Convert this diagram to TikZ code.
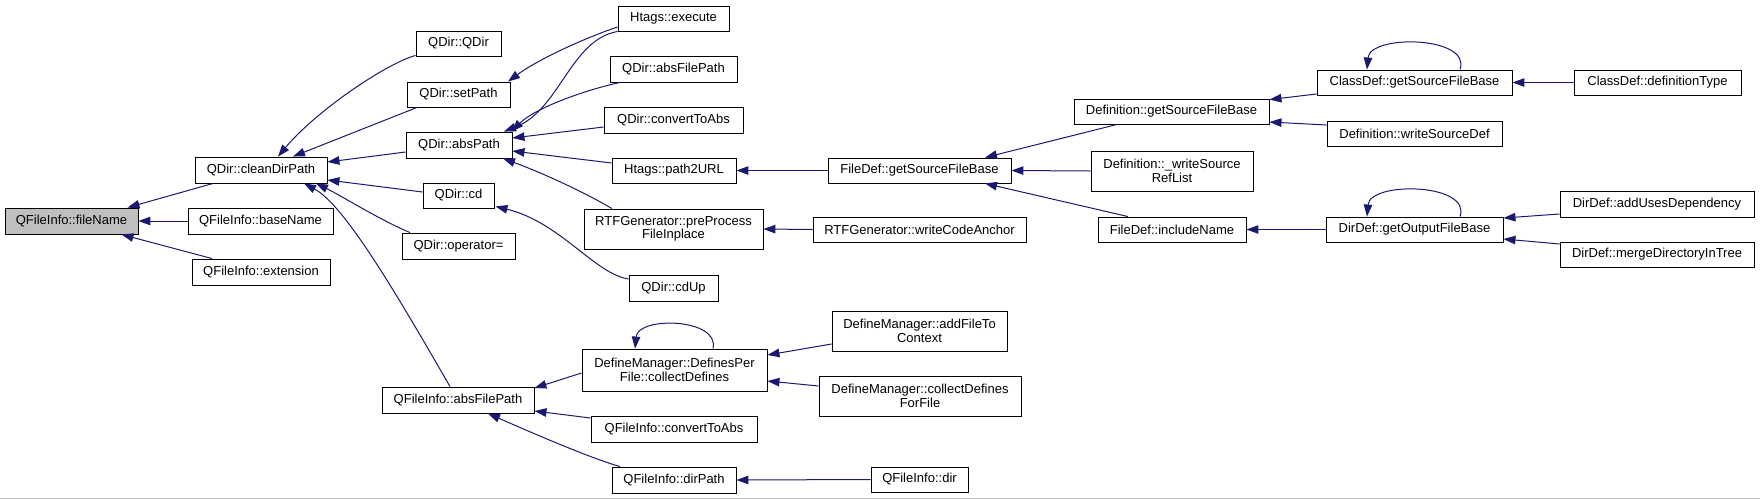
\documentclass[tikz,border=0pt]{standalone}
\usepackage{fontspec}
\setmainfont{Liberation Sans}
\usetikzlibrary{arrows.meta}
\definecolor{edgeblue}{RGB}{25,25,112}
\definecolor{rootgray}{RGB}{191,191,191}
\begin{document}
\begin{tikzpicture}[x=1pt,y=-1pt,
  box/.style={draw=black, line width=0.9pt, inner sep=0pt, fill=white, align=center,
    font=\fontsize{13}{13.5}\selectfont},
  conn/.style={draw=edgeblue, line width=1pt, -{Triangle[length=12pt,width=8.5pt]}, fill=none}]
\useasboundingbox (0,0) rectangle (1760,499);
\draw[color=black!25, line width=1pt] (0,498.5) -- (1760,498.5);
% column 0
\node[box, fill=rootgray, minimum width=133pt, minimum height=26pt] (fileName) at (71.5,221) {QFileInfo::fileName};
% column 1
\node[box, minimum width=132pt, minimum height=26pt] (cleanDirPath) at (261,170) {QDir::cleanDirPath};
\node[box, minimum width=145pt, minimum height=26pt] (baseName) at (260.5,221) {QFileInfo::baseName};
\node[box, minimum width=138pt, minimum height=26pt] (extension) at (261,272) {QFileInfo::extension};
% column 2
\node[box, minimum width=85pt, minimum height=25pt] (qdir) at (458.5,43.5) {QDir::QDir};
\node[box, minimum width=103pt, minimum height=25pt] (setPath) at (458.5,94.5) {QDir::setPath};
\node[box, minimum width=106pt, minimum height=26pt] (absPath) at (459,145) {QDir::absPath};
\node[box, minimum width=71pt, minimum height=25pt] (cd) at (458.5,195.5) {QDir::cd};
\node[box, minimum width=113pt, minimum height=26pt] (opeq) at (458.5,246) {QDir::operator=};
\node[box, minimum width=152pt, minimum height=26pt] (fiAbs) at (458,400) {QFileInfo::absFilePath};
% column 3
\node[box, minimum width=111pt, minimum height=25pt] (execute) at (673.5,18.5) {Htags::execute};
\node[box, minimum width=127pt, minimum height=26pt] (qdAbs) at (673.5,69) {QDir::absFilePath};
\node[box, minimum width=139pt, minimum height=26pt] (qdConv) at (673.5,120) {QDir::convertToAbs};
\node[box, minimum width=124pt, minimum height=25pt] (path2URL) at (674,170.5) {Htags::path2URL};
\node[box, minimum width=179pt, minimum height=40pt] (preProc) at (673.5,229) {RTFGenerator::preProcess\\FileInplace};
\node[box, minimum width=89pt, minimum height=26pt] (cdUp) at (673.5,288) {QDir::cdUp};
\node[box, minimum width=185pt, minimum height=42pt] (defPer) at (674.5,370) {DefineManager::DefinesPer\\File::collectDefines};
\node[box, minimum width=166pt, minimum height=26pt] (fiConv) at (674,429) {QFileInfo::convertToAbs};
\node[box, minimum width=124pt, minimum height=26pt] (dirPath) at (674,480) {QFileInfo::dirPath};
% column 4
\node[box, minimum width=183pt, minimum height=25pt] (fdGSFB) at (919.5,170.5) {FileDef::getSourceFileBase};
\node[box, minimum width=213pt, minimum height=25pt] (wca) at (919.5,229.5) {RTFGenerator::writeCodeAnchor};
\node[box, minimum width=175pt, minimum height=40pt] (addFile) at (919.5,331) {DefineManager::addFileTo\\Context};
\node[box, minimum width=202pt, minimum height=40pt] (collDef) at (920,396) {DefineManager::collectDefines\\ForFile};
\node[box, minimum width=97pt, minimum height=25pt] (fiDir) at (919.5,479.5) {QFileInfo::dir};
% column 5
\node[box, minimum width=195pt, minimum height=25pt] (defGSFB) at (1171.5,111.5) {Definition::getSourceFileBase};
\node[box, minimum width=162pt, minimum height=40pt] (wsrl) at (1172,171) {Definition::\_writeSource\\RefList};
\node[box, minimum width=148pt, minimum height=25pt] (inclName) at (1172,229.5) {FileDef::includeName};
% column 6
\node[box, minimum width=195pt, minimum height=25pt] (cdGSFB) at (1414.5,82.5) {ClassDef::getSourceFileBase};
\node[box, minimum width=175pt, minimum height=25pt] (wsd) at (1414.5,133.5) {Definition::writeSourceDef};
\node[box, minimum width=177pt, minimum height=25pt] (gofb) at (1414.5,229.5) {DirDef::getOutputFileBase};
% column 7
\node[box, minimum width=167pt, minimum height=25pt] (defType) at (1657.5,82.5) {ClassDef::definitionType};
\node[box, minimum width=194pt, minimum height=26pt] (aud) at (1657,204) {DirDef::addUsesDependency};
\node[box, minimum width=194pt, minimum height=25pt] (mdit) at (1657,254.5) {DirDef::mergeDirectoryInTree};
% edges into fileName
\draw[conn] ([xshift=-48pt]cleanDirPath.south) -- ([xshift=56pt]fileName.north);
\draw[conn] (baseName.west) -- (fileName.east);
\draw[conn] ([xshift=-49pt]extension.north) -- ([xshift=50pt]fileName.south);
% edges into cleanDirPath
\draw[conn] ([yshift=1pt]qdir.south west) .. controls (385,64) and (315,112) .. ([xshift=17pt]cleanDirPath.north);
\draw[conn] ([xshift=-41.5pt]setPath.south) -- ([xshift=32pt]cleanDirPath.north);
\draw[conn] ([yshift=-7pt]absPath.west) -- ([yshift=8pt]cleanDirPath.east);
\draw[conn] ([yshift=3.5pt]cd.west) -- ([yshift=-10pt]cleanDirPath.east);
\draw[conn] ([xshift=-48.5pt]opeq.north) .. controls (380,220) and (340,195) .. ([xshift=55pt]cleanDirPath.south);
\draw[conn] ([xshift=-8pt]fiAbs.north) .. controls (400,300) and (345,205) .. ([xshift=43pt]cleanDirPath.south);
% edges into setPath / absPath
\draw[conn] ([yshift=-8.5pt]execute.west) .. controls (590,36) and (540,58) .. ([xshift=49.5pt]setPath.north);
\draw[conn] (execute.south west) .. controls (570,40) and (560,110) .. ([xshift=45pt]absPath.north);
\draw[conn] ([xshift=-53.5pt]qdAbs.south) .. controls (585,90) and (535,108) .. ([xshift=-1pt]absPath.north east);
\draw[conn] ([yshift=-7pt]qdConv.west) -- ([yshift=7pt]absPath.east);
\draw[conn] ([yshift=7.5pt]path2URL.west) -- ([yshift=-6pt]absPath.east);
\draw[conn] ([xshift=-61.5pt]preProc.north) .. controls (580,190) and (540,172) .. ([xshift=44pt]absPath.south);
% cd
\draw[conn] ([yshift=9pt]cdUp.west) .. controls (595,274) and (560,222) .. ([xshift=1pt,yshift=2pt]cd.south east);
% QFileInfo::absFilePath
\draw[conn] ([yshift=-3pt]defPer.west) -- ([yshift=12pt]fiAbs.east);
\draw[conn] ([yshift=11pt]fiConv.west) -- ([yshift=-11pt]fiAbs.east);
\draw[conn] ([xshift=-54pt]dirPath.north) .. controls (590,458) and (530,432) .. ([xshift=30pt]fiAbs.south);
% DefinesPer
\draw[conn] ([xshift=38.5pt]defPer.north) .. controls (720,318) and (638,316) .. ([xshift=-39.5pt]defPer.north);
\draw[conn] ([yshift=-13pt]addFile.west) -- ([yshift=15pt]defPer.east);
\draw[conn] ([yshift=10pt]collDef.west) -- ([yshift=-11pt]defPer.east);
\draw[conn] (fiDir.west) -- (dirPath.east);
% column 4 -> 3
\draw[conn] (fdGSFB.west) -- (path2URL.east);
\draw[conn] (wca.west) -- (preProc.east);
% into FileDef::getSourceFileBase
\draw[conn] ([xshift=-54.5pt]defGSFB.south) -- ([xshift=65.5pt]fdGSFB.north);
\draw[conn] (wsrl.west) -- (fdGSFB.east);
\draw[conn] ([xshift=-44pt]inclName.north) -- ([xshift=65.5pt]fdGSFB.south);
% into Definition::getSourceFileBase
\draw[conn] ([yshift=-11.5pt]cdGSFB.west) -- ([yshift=-1pt]defGSFB.north east);
\draw[conn] ([yshift=8.5pt]wsd.west) -- ([yshift=-10.5pt]defGSFB.east);
% ClassDef
\draw[conn] ([xshift=45.5pt]cdGSFB.north) .. controls (1472,36) and (1370,34) .. ([xshift=-47.5pt]cdGSFB.north);
\draw[conn] (defType.west) -- (cdGSFB.east);
% DirDef
\draw[conn] (gofb.west) -- (inclName.east);
\draw[conn] ([xshift=45.5pt]gofb.north) .. controls (1472,183) and (1370,181) .. ([xshift=-47.5pt]gofb.north);
\draw[conn] ([yshift=-10pt]aud.west) -- ([yshift=11.5pt]gofb.east);
\draw[conn] ([yshift=10.5pt]mdit.west) -- ([yshift=-9.5pt]gofb.east);
\end{tikzpicture}
\end{document}
